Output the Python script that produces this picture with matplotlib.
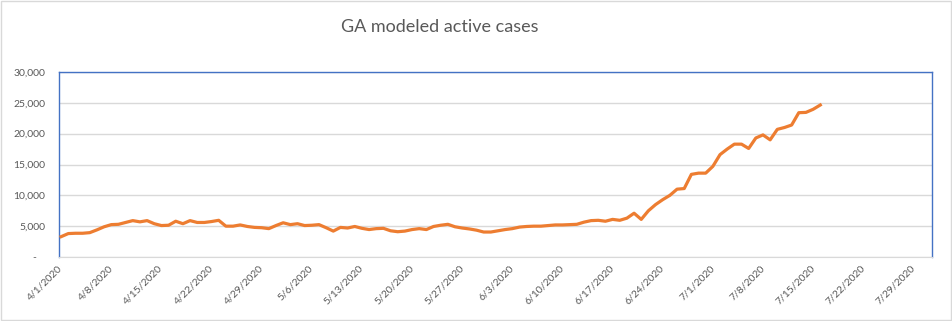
import matplotlib

matplotlib.use("Agg")
import matplotlib.pyplot as plt
import matplotlib.dates as mdates
import numpy as np
import pandas as pd
from matplotlib.patches import Rectangle

# daily modeled active cases, starting 4/1/2020
start_date = "2020-04-01"
active_cases = [
    3300, 3800, 3850, 3850, 3950, 4400, 4900, 5250, 5300, 5600,
    5900, 5700, 5900, 5400, 5100, 5150, 5800, 5400, 5900, 5600,
    5600, 5750, 5950, 5000, 5000, 5200, 4950, 4800, 4750, 4600,
    5100, 5550, 5250, 5400, 5100, 5150, 5250, 4750, 4200, 4800,
    4700, 4950, 4650, 4450, 4600, 4650, 4250, 4100, 4200, 4450,
    4600, 4450, 4950, 5150, 5300, 4900, 4700, 4550, 4350, 4050,
    4050, 4250, 4450, 4600, 4850, 4950, 5000, 5000, 5100, 5200,
    5200, 5250, 5300, 5650, 5900, 5950, 5800, 6100, 5950, 6300,
    7100, 6100, 7500, 8500, 9300, 10000, 11000, 11100, 13400, 13600,
    13600, 14700, 16600, 17500, 18300, 18300, 17600, 19300, 19800, 19000,
    20700, 21000, 21400, 23400, 23450, 23950, 24650,
]
tick_dates = pd.date_range("2020-04-01", "2020-07-29", freq="7D")
y_ticks = [0, 5000, 10000, 15000, 20000, 25000, 30000]
title = "GA modeled active cases"

dates = pd.date_range(start_date, periods=len(active_cases), freq="D")
x = mdates.date2num(dates)
x0 = mdates.date2num(pd.Timestamp(start_date))

TXT = "#595959"
GRID = "#d9d9d9"
plt.rcParams["font.family"] = ["Lato", "DejaVu Sans"]

fig = plt.figure(figsize=(9.53, 3.21), dpi=100)
ax = fig.add_axes([59 / 953, 1 - 257 / 321, (932 - 59) / 953, (257 - 72) / 321])

ax.plot(x, active_cases, color="#ED7D31", lw=2.3, solid_joinstyle="round", zorder=3)

ax.set_xlim(x0 - 0.3, x0 + 121.6)
ax.set_ylim(0, 30000)
ax.set_yticks(y_ticks)
ax.set_yticklabels(["-   "] + [f"{v:,}" for v in y_ticks[1:]])
ax.set_xticks(mdates.date2num(tick_dates))
ax.set_xticklabels([f"{d.month}/{d.day}/{d.year}" for d in tick_dates],
                   rotation=45, ha="right", va="center", rotation_mode="anchor")
ax.tick_params(axis="both", length=0, colors=TXT, labelsize=7.5)
ax.tick_params(axis="y", pad=10)
ax.tick_params(axis="x", pad=7)
ax.grid(axis="y", color=GRID, lw=1)
ax.set_axisbelow(True)

for s in ("left", "top", "right"):
    ax.spines[s].set_color("#4472C4")
    ax.spines[s].set_linewidth(1)
ax.spines["bottom"].set_color(GRID)

fig.text(440 / 953, 1 - 27 / 321, title, ha="center", va="center", fontsize=13, color=TXT)
fig.patches.append(Rectangle((0.001, 0.002), 0.997, 0.995, transform=fig.transFigure,
                             fill=False, edgecolor=GRID, lw=1))

fig.savefig("out.png", dpi=100, facecolor="white")
